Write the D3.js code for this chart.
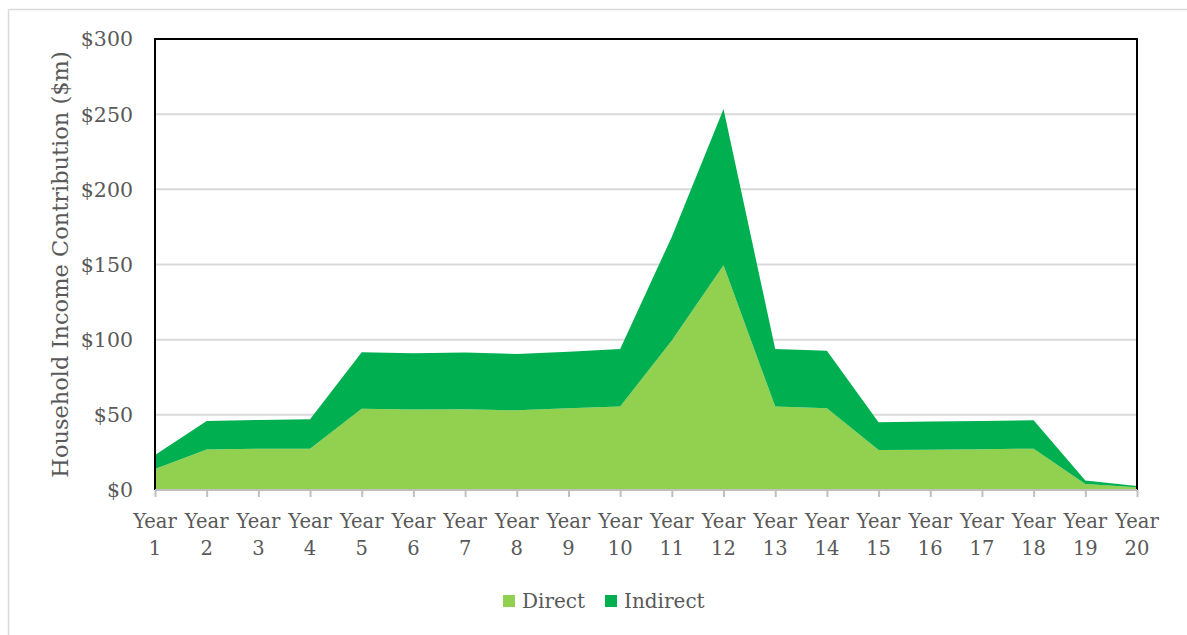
<!DOCTYPE html>
<html>
<head>
<meta charset="utf-8">
<script src="https://cdn.jsdelivr.net/npm/d3@7"></script>
<style>
  html, body { margin: 0; padding: 0; background: #fff; }
  svg { display: block; }
  text { font-family: "DejaVu Serif", "Liberation Serif", serif; fill: #595959; }
</style>
</head>
<body>
<svg id="chart" width="1187" height="635"></svg>
<script>
// Household income contribution by year, $m
const years = ["1","2","3","4","5","6","7","8","9","10","11","12","13","14","15","16","17","18","19","20"];
const direct   = [14, 27, 27.5, 27.5, 54, 53.5, 53.7, 53, 54.3, 55.5, 99.5, 149.5, 55.5, 54.3, 26.6, 26.8, 27.1, 27.5, 4, 1.8];
const indirect = [9.3, 18.9, 19.1, 19.5, 37.6, 37.4, 37.7, 37.5, 37.7, 38.3, 69, 104, 38.3, 38.4, 18.4, 18.7, 18.8, 18.9, 2.4, 0.9];
const seriesNames = ["Direct", "Indirect"];
const seriesColors = ["#92D050", "#00B050"];
const yTicks = [0, 50, 100, 150, 200, 250, 300];
const yTitle = "Household Income Contribution ($m)";

const svg = d3.select("#chart");
const W = 1187, H = 635;
const plot = { left: 155, right: 1137, top: 39, bottom: 490 };

// outer chart frame (top and left edges visible)
svg.append("line").attr("x1", 8.5).attr("x2", W).attr("y1", 9.5).attr("y2", 9.5)
  .attr("stroke", "#D9D9D9").attr("stroke-width", 1.5);
svg.append("line").attr("x1", 8.5).attr("x2", 8.5).attr("y1", 9.5).attr("y2", H)
  .attr("stroke", "#D9D9D9").attr("stroke-width", 1.5);

const x = d3.scalePoint().domain(years).range([plot.left, plot.right]);
const y = d3.scaleLinear().domain([0, 300]).range([plot.bottom, plot.top]);

// gridlines
svg.append("g").selectAll("line").data(yTicks.filter(d => d > 0)).join("line")
  .attr("x1", plot.left).attr("x2", plot.right)
  .attr("y1", d => y(d)).attr("y2", d => y(d))
  .attr("stroke", "#D9D9D9").attr("stroke-width", 2);

// stacked areas
const rows = years.map((yr, i) => ({ year: yr, Direct: direct[i], Indirect: indirect[i] }));
const stacked = d3.stack().keys(seriesNames)(rows);
const area = d3.area()
  .x(d => x(d.data.year))
  .y0(d => y(d[0]))
  .y1(d => y(d[1]));
svg.append("g").selectAll("path").data(stacked).join("path")
  .attr("d", area)
  .attr("fill", (d, i) => seriesColors[i]);

// plot border: top, left, right in black
svg.append("path")
  .attr("d", `M${plot.left},${plot.bottom}V${plot.top}H${plot.right}V${plot.bottom}`)
  .attr("fill", "none").attr("stroke", "#000").attr("stroke-width", 2);

// category axis
const xAxis = svg.append("g").attr("transform", `translate(0,${plot.bottom})`)
  .call(d3.axisBottom(x).tickSize(7).tickFormat(""));
xAxis.select(".domain").attr("stroke", "#BFBFBF").attr("stroke-width", 2)
  .attr("d", `M${plot.left},0H${plot.right}`);
xAxis.selectAll(".tick line").attr("stroke", "#BFBFBF").attr("stroke-width", 2);

const xl = svg.append("g").selectAll("text").data(years).join("text")
  .attr("x", d => x(d))
  .attr("text-anchor", "middle")
  .style("font-size", "19.5px");
xl.append("tspan").attr("x", d => x(d)).attr("y", 528).text("Year");
xl.append("tspan").attr("x", d => x(d)).attr("y", 555).text(d => d);

// value axis labels
svg.append("g").selectAll("text").data(yTicks).join("text")
  .attr("x", 133)
  .attr("y", d => y(d))
  .attr("dy", "0.36em")
  .attr("text-anchor", "end")
  .style("font-size", "20.5px")
  .text(d => "$" + d);

// value axis title
svg.append("text")
  .attr("transform", `translate(68,${(plot.top + plot.bottom) / 2}) rotate(-90)`)
  .attr("text-anchor", "middle")
  .style("font-size", "22.5px")
  .text(yTitle);

// legend
const legendX = [503, 605];
const lg = svg.append("g").selectAll("g").data(seriesNames).join("g")
  .attr("transform", (d, i) => `translate(${legendX[i]},601)`);
lg.append("rect").attr("x", 0).attr("y", -6).attr("width", 12).attr("height", 12)
  .attr("fill", (d, i) => seriesColors[i]);
lg.append("text").attr("x", 19).attr("dy", "0.36em").style("font-size", "20px").text(d => d);
</script>
</body>
</html>
